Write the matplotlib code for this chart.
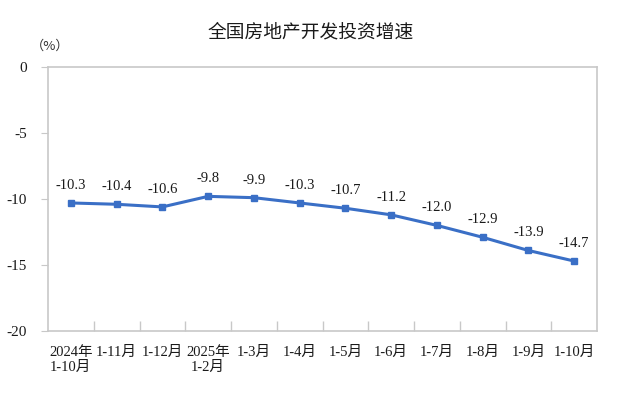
import numpy as np
import matplotlib.pyplot as plt
from matplotlib.ticker import FixedLocator

# data
months = ['2024年\n1-10月', '1-11月', '1-12月', '2025年\n1-2月', '1-3月', '1-4月',
          '1-5月', '1-6月', '1-7月', '1-8月', '1-9月', '1-10月']
growth = [-10.3, -10.4, -10.6, -9.8, -9.9, -10.3, -10.7, -11.2, -12.0, -12.9, -13.9, -14.7]
yticks = [0, -5, -10, -15, -20]

serif_cjk = ['Liberation Serif', 'Noto Sans CJK SC']
line_color = '#3a6fc6'
frame_color = '#c8c8c8'
text_color = '#1a1a1a'

fig = plt.figure(figsize=(6.22, 3.94), dpi=100)
ax = fig.add_axes([48 / 622, 1 - 331 / 394, (597 - 48) / 622, (331 - 67) / 394])

x = np.arange(len(months))
ax.plot(x, growth, color=line_color, lw=2.2, marker='s', ms=5, zorder=3)
for xi, v in zip(x, growth):
    ax.annotate(f'{v:.1f}', (xi, v), xytext=(0, 8), textcoords='offset points',
                ha='center', va='bottom', fontsize=10.5, family=serif_cjk, color=text_color)

ax.set_xlim(-0.5, len(months) - 0.5)
ax.set_ylim(-20, 0)
ax.set_yticks(yticks)
ax.set_yticklabels([str(t) for t in yticks], family=serif_cjk, fontsize=11, color=text_color)

# category labels centred, tick marks at the boundaries
ax.set_xticks(x)
ax.set_xticklabels(months, family=serif_cjk, fontsize=10.5, color=text_color, linespacing=1.15)
ax.tick_params(axis='x', which='major', length=0, pad=11)
ax.xaxis.set_minor_locator(FixedLocator(np.arange(0.5, len(months) - 1, 1)))
ax.tick_params(axis='x', which='minor', direction='in', length=7, color=frame_color, width=1)
ax.tick_params(axis='y', direction='out', length=5, color=frame_color, pad=10)

for s in ax.spines.values():
    s.set_color(frame_color)
    s.set_linewidth(1.2)

fig.text(0.5, 1 - 32 / 394, '全国房地产开发投资增速', ha='center', va='center',
         fontsize=13.5, weight='medium', family=['Noto Sans CJK SC', 'DejaVu Sans'], color=text_color)
fig.text(31 / 622, 1 - 46 / 394, '（%）', ha='left', va='center',
         fontsize=9.5, family=['Noto Sans CJK SC', 'DejaVu Sans'], color='#333333')

fig.savefig('out.png', dpi=100)
